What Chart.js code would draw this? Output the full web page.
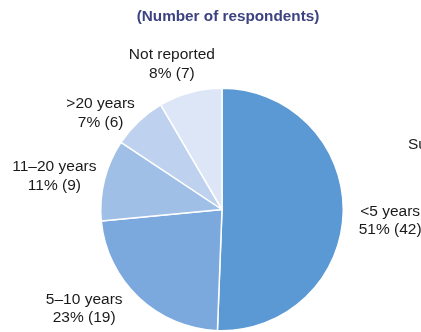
<!DOCTYPE html>
<html>
<head>
<meta charset="utf-8">
<script src="https://cdn.jsdelivr.net/npm/chart.js@4"></script>
<style>
  html, body { margin: 0; padding: 0; background: #ffffff; }
  #wrap { width: 421px; height: 332px; position: relative; }
</style>
</head>
<body>
<div id="wrap"><canvas id="c" width="421" height="332"></canvas></div>
<script>
const categories = ["<5 years", "5\u201310 years", "11\u201320 years", ">20 years", "Not reported"];
const counts = [42, 19, 9, 6, 7];
const percentLabels = ["51%", "23%", "11%", "7%", "8%"];
const subtitleText = "(Number of respondents)";
const sideText = "Su";

const colors = ["#5b99d4", "#7ba8dd", "#9fbfe7", "#bed2ef", "#dce6f6"];
// label placement relative to each slice: angle nudge (deg) and radius factor
const labelNudge = [[2.7, 1.39], [10.9, 1.40], [-2.8, 1.41], [-8.1, 1.28], [-3.8, 1.27]];

const labelPlugin = {
  id: 'outsideLabels',
  afterDraw(chart) {
    const ctx = chart.ctx;
    const meta = chart.getDatasetMeta(0);
    ctx.save();
    ctx.fillStyle = '#1a1a1a';
    ctx.font = '15.5px "Liberation Sans", Arial, sans-serif';
    ctx.textAlign = 'center';
    ctx.textBaseline = 'middle';
    meta.data.forEach((arc, i) => {
      const p = arc.getProps(['x', 'y', 'startAngle', 'endAngle', 'outerRadius'], true);
      const mid = (p.startAngle + p.endAngle) / 2 + labelNudge[i][0] * Math.PI / 180;
      const d = p.outerRadius * labelNudge[i][1];
      const cx = p.x + Math.cos(mid) * d;
      const cy = p.y + Math.sin(mid) * d;
      ctx.fillText(categories[i], cx, cy - 9);
      ctx.fillText(percentLabels[i] + ' (' + counts[i] + ')', cx, cy + 9.5);
    });
    // subtitle
    ctx.fillStyle = '#3d4280';
    ctx.font = 'bold 15.3px "Liberation Sans", Arial, sans-serif';
    ctx.fillText(subtitleText, 228, 17);
    // cut-off side text
    ctx.fillStyle = '#1a1a1a';
    ctx.font = '15.5px "Liberation Sans", Arial, sans-serif';
    ctx.textAlign = 'left';
    ctx.fillText(sideText, 408, 145);
    ctx.restore();
  }
};

new Chart(document.getElementById('c'), {
  type: 'pie',
  data: {
    labels: categories,
    datasets: [{
      data: counts,
      backgroundColor: colors,
      borderColor: '#ffffff',
      borderWidth: 1.5
    }]
  },
  options: {
    responsive: false,
    animation: false,
    layout: { padding: { left: 100, right: 77, top: 87, bottom: 0 } },
    plugins: {
      legend: { display: false },
      tooltip: { enabled: false }
    }
  },
  plugins: [labelPlugin]
});
</script>
</body>
</html>
